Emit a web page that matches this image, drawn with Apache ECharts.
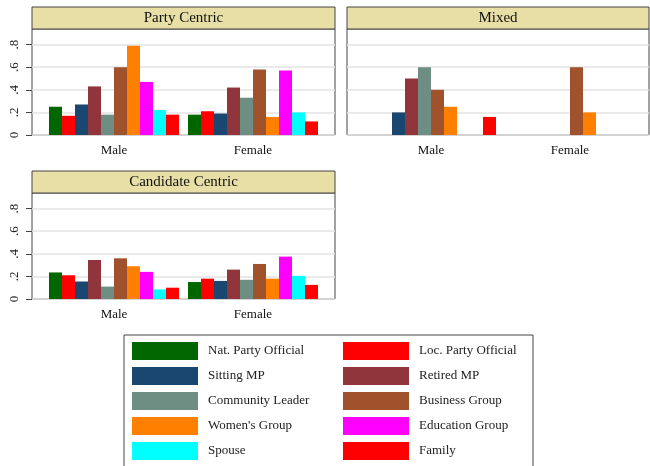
<!DOCTYPE html>
<html>
<head>
<meta charset="utf-8" />
<script src="https://cdn.jsdelivr.net/npm/echarts@6/dist/echarts.min.js"></script>
<style>
  body {
    margin: 0px;
    background: #fff;
  }
  #chart {
    width: 650px;
    height: 466px;
  }
</style>
</head>
<body>
<div id="chart"></div>
<script>
// data
var genders = ["Male", "Female"];
var seriesNames = [
  "Nat. Party Official", "Loc. Party Official", "Sitting MP", "Retired MP",
  "Community Leader", "Business Group", "Women's Group", "Education Group",
  "Spouse", "Family"
];
var seriesColors = [
  "#006600", "#ff0000", "#1a476f", "#90353b", "#6e8e84",
  "#a0522d", "#ff7f00", "#ff00ff", "#00ffff", "#ff0000"
];
var panelTitles = ["Party Centric", "Mixed", "Candidate Centric"];

var partyMale = [0.25, 0.17, 0.27, 0.43, 0.18, 0.60, 0.79, 0.47, 0.22, 0.18];
var partyFemale = [0.18, 0.21, 0.19, 0.42, 0.33, 0.58, 0.16, 0.57, 0.20, 0.12];
var mixedMale = [0, 0, 0.20, 0.50, 0.60, 0.40, 0.25, 0, 0, 0.16];
var mixedFemale = [0, 0, 0, 0, 0, 0.60, 0.20, 0, 0, 0];
var candMale = [0.235, 0.21, 0.155, 0.345, 0.11, 0.36, 0.29, 0.24, 0.085, 0.10];
var candFemale = [0.15, 0.18, 0.16, 0.26, 0.17, 0.31, 0.18, 0.375, 0.205, 0.125];

var yTickLabels = ["0", ".2", ".4", ".6", ".8"];

var FONT = "Liberation Serif";

// panel boxes: [left, headerTop, width] ; plot area is 106px under a 22px header
var panels = [
  { box: [32, 7, 303], bars: 44.5, male: partyMale, female: partyFemale, labels: true },
  { box: [347, 7, 302], bars: 361.5, male: mixedMale, female: mixedFemale, labels: false },
  { box: [32, 171, 303], bars: 44.5, male: candMale, female: candFemale, labels: true }
];

let grids = [];
let xAxes = [];
let yAxes = [];
let series = [];
let graphics = [];

panels.forEach(function (p, k) {
  var top = p.box[1] + 22;
  // background grid: frame + gridlines + y labels
  grids.push({
    left: p.box[0], top: top, width: p.box[2], height: 106,
    show: true, borderColor: "#444", borderWidth: 1, backgroundColor: "#fff"
  });
  // bar grid
  grids.push({ left: p.bars, top: top, width: 278, height: 106 });

  xAxes.push({ gridIndex: 2 * k, type: "value", show: false, min: 0, max: 1 });
  xAxes.push({
    gridIndex: 2 * k + 1,
    type: "category",
    data: genders,
    axisLine: { show: false },
    axisTick: { show: false },
    axisLabel: { margin: 9, fontFamily: FONT, fontSize: 13, color: "#111" }
  });

  yAxes.push({
    gridIndex: 2 * k,
    type: "value",
    min: 0,
    max: 0.938,
    interval: 0.2,
    axisLine: { show: false },
    axisTick: {
      show: p.labels,
      length: 6,
      lineStyle: { color: "#444" },
      customValues: [0, 0.2, 0.4, 0.6, 0.8]
    },
    axisLabel: {
      show: p.labels,
      rotate: 90,
      margin: 11,
      fontFamily: FONT,
      fontSize: 13,
      color: "#222",
      customValues: [0, 0.2, 0.4, 0.6, 0.8],
      formatter: function (v) {
        var i = Math.round(v / 0.2);
        if (Math.abs(v - i * 0.2) > 1e-6) return "";
        return yTickLabels[i] || "";
      }
    },
    splitLine: { lineStyle: { color: "#e3e3e3", width: 1.5 } }
  });
  yAxes.push({ gridIndex: 2 * k + 1, type: "value", min: 0, max: 0.938, show: false });

  seriesNames.forEach(function (name, i) {
    series.push({
      type: "bar",
      name: name,
      xAxisIndex: 2 * k + 1,
      yAxisIndex: 2 * k + 1,
      barWidth: 13,
      barGap: "0%",
      itemStyle: { color: seriesColors[i] },
      data: [p.male[i], p.female[i]]
    });
  });

  // header band with the panel title
  graphics.push({
    type: "rect",
    shape: { x: p.box[0], y: p.box[1], width: p.box[2], height: 22 },
    style: { fill: "#e8dfa6", stroke: "#444", lineWidth: 1 }
  });
  graphics.push({
    type: "text",
    x: p.box[0] + p.box[2] / 2,
    y: p.box[1] + 11,
    style: {
      text: panelTitles[k],
      fontFamily: FONT,
      fontSize: 15,
      fill: "#111",
      align: "center",
      verticalAlign: "middle"
    }
  });
});

// legend frame
graphics.push({
  type: "rect",
  shape: { x: 124, y: 335, width: 409, height: 140 },
  style: { fill: "none", stroke: "#444", lineWidth: 1 }
});

var legendBase = {
  type: "plain",
  orient: "vertical",
  top: 342,
  height: 120,
  padding: 0,
  itemWidth: 66,
  itemHeight: 18,
  itemGap: 7,
  icon: "rect",
  selectedMode: false,
  textStyle: { fontFamily: FONT, fontSize: 13, color: "#222", padding: [0, 0, 0, 5] }
};

let chart = echarts.init(document.getElementById("chart"));
chart.setOption({
  animation: false,
  grid: grids,
  xAxis: xAxes,
  yAxis: yAxes,
  legend: [
    Object.assign({}, legendBase, {
      left: 132,
      data: seriesNames.filter(function (n, i) { return i % 2 === 0; })
    }),
    Object.assign({}, legendBase, {
      left: 343,
      data: seriesNames.filter(function (n, i) { return i % 2 === 1; })
    })
  ],
  graphic: graphics,
  series: series
});
</script>
</body>
</html>
